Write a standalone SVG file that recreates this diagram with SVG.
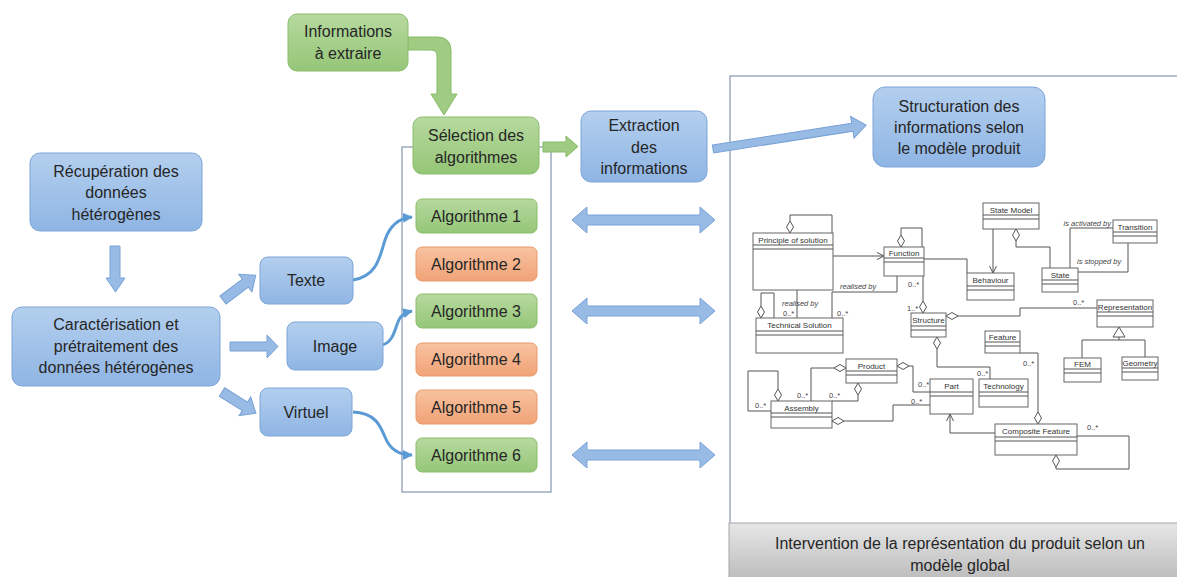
<svg xmlns="http://www.w3.org/2000/svg" xmlns:xlink="http://www.w3.org/1999/xlink" width="1177" height="577" viewBox="0 0 1177 577">
<defs>
<linearGradient id="gBlue" x1="0" y1="0" x2="0" y2="1"><stop offset="0" stop-color="#b3cfee"/><stop offset="1" stop-color="#8fb5e4"/></linearGradient>
<linearGradient id="gGreen" x1="0" y1="0" x2="0" y2="1"><stop offset="0" stop-color="#b6d99f"/><stop offset="1" stop-color="#95c677"/></linearGradient>
<linearGradient id="gOrange" x1="0" y1="0" x2="0" y2="1"><stop offset="0" stop-color="#f8c3a0"/><stop offset="1" stop-color="#f1a277"/></linearGradient>
<linearGradient id="gGrey" x1="0" y1="0" x2="0" y2="1"><stop offset="0" stop-color="#e6e6e6"/><stop offset="1" stop-color="#bdbdbd"/></linearGradient>
<marker id="ah" viewBox="0 0 10 10" refX="9" refY="5" markerWidth="10" markerHeight="10" markerUnits="userSpaceOnUse" orient="auto"><path d="M0,0 L10,5 L0,10 Z" fill="#5b9bd5"/></marker>
<path id="dv" d="M0,0 L3.5,6 L0,12 L-3.5,6 Z"/>
<path id="dh" d="M0,0 L6,-3.5 L12,0 L6,3.5 Z"/>
</defs>
<style>
.t{font-family:"Liberation Sans",Arial,sans-serif;font-size:16px;fill:#262626;text-anchor:middle}
.bb{fill:url(#gBlue);stroke:#7da5d6;stroke-width:1}
.gb{fill:url(#gGreen);stroke:#8bbd6c;stroke-width:1}
.ob{fill:url(#gOrange);stroke:#e89a6c;stroke-width:1}
.ba{fill:#98bbe6;stroke:#79a2d4;stroke-width:1}
.ga{fill:#9fcc82;stroke:#86ba66;stroke-width:1}
.cv{fill:none;stroke:#5b9bd5;stroke-width:3}
.fr{fill:none;stroke:#8497b0;stroke-width:1.2}
.u{fill:#fff;stroke:#666;stroke-width:1}
.ul{fill:none;stroke:#555;stroke-width:1}
.ut{font-family:"Liberation Sans",Arial,sans-serif;font-size:8px;fill:#333;text-anchor:middle}
.um{font-family:"Liberation Sans",Arial,sans-serif;font-size:7.5px;fill:#444}
.ui{font-family:"Liberation Sans",Arial,sans-serif;font-size:7.5px;fill:#444;font-style:italic}
.dm{fill:#fff;stroke:#555;stroke-width:1}
</style>
<rect width="1177" height="577" fill="#fff"/>

<!-- frames -->
<rect class="fr" x="402" y="147" width="149" height="345"/>
<rect class="fr" x="730" y="76" width="460" height="510"/>

<g id="connectors">
<polygon class="ba" points="110,246 120,246 120,278 125,278 115.5,292 106,278 110,278"/>
<polygon class="ba" transform="translate(223,300) rotate(-37)" points="0,-5 28,-5 28,-11 41,0 28,11 28,5 0,5"/>
<polygon class="ba" points="230,342 267,342 267,335 278,346.5 267,358 267,351 230,351"/>
<polygon class="ba" transform="translate(222,392) rotate(32)" points="0,-5 27,-5 27,-11 40,0 27,11 27,5 0,5"/>
<path class="cv" d="M353,280 C378,276 380,255 385,240 C390,225 400,218 412,217" marker-end="url(#ah)"/>
<path class="cv" d="M382,345 C395,342 395,325 400,318 C404,313 408,312 412,311" marker-end="url(#ah)"/>
<path class="cv" d="M353,412 C375,413 380,425 385,437 C390,450 400,455 412,455" marker-end="url(#ah)"/>
<path class="ga" d="M408,37 H437 Q451,37 451,51 V94 H457 L444,115 L431,94 H437 V56 Q437,50 431,50 H408 Z"/>
<polygon class="ga" points="543,142 566,142 566,136 578,146.5 566,157 566,152 543,152"/>
<polygon class="ba" transform="translate(713,149) rotate(-8.9)" points="0,-4 141,-4 141,-11 155,0 141,11 141,4 0,4"/>
<polygon class="ba" points="572,220 587,207 587,215 700,215 700,207 715,220 700,233 700,225 587,225 587,233"/>
<polygon class="ba" points="572,311 587,298 587,306 700,306 700,298 715,311 700,324 700,316 587,316 587,324"/>
<polygon class="ba" points="572,455 587,442 587,450 700,450 700,442 715,455 700,468 700,460 587,460 587,468"/>
</g>

<g id="recuperation"><rect class="bb" x="30" y="153" width="172" height="78" rx="10"/>
<text class="t" x="116" y="177">Récupération des</text><text class="t" x="116" y="198">données</text><text class="t" x="116" y="220">hétérogènes</text></g>
<g id="caracterisation"><rect class="bb" x="12" y="307" width="208" height="79" rx="10"/>
<text class="t" x="116" y="330">Caractérisation et</text><text class="t" x="116" y="352">prétraitement des</text><text class="t" x="116" y="373">données hétérogènes</text></g>
<g id="texte"><rect class="bb" x="260" y="257" width="93" height="47" rx="8"/><text class="t" x="306" y="286">Texte</text></g>
<g id="image"><rect class="bb" x="287" y="322" width="96" height="48" rx="8"/><text class="t" x="335" y="352">Image</text></g>
<g id="virtuel"><rect class="bb" x="260" y="388" width="92" height="48" rx="8"/><text class="t" x="306" y="418">Virtuel</text></g>
<g id="informations"><rect class="gb" x="288" y="14" width="120" height="57" rx="9"/>
<text class="t" x="348" y="37">Informations</text><text class="t" x="348" y="59">à extraire</text></g>
<g id="selection"><rect class="gb" x="413" y="117" width="126" height="57" rx="9"/>
<text class="t" x="476" y="141">Sélection des</text><text class="t" x="476" y="163">algorithmes</text></g>
<g id="extraction"><rect class="bb" x="581" y="111" width="126" height="71" rx="10"/>
<text class="t" x="644" y="131">Extraction</text><text class="t" x="644" y="153">des</text><text class="t" x="644" y="174">informations</text></g>
<g id="structuration"><rect class="bb" x="873" y="87" width="172" height="80" rx="12"/>
<text class="t" x="959" y="112">Structuration des</text><text class="t" x="959" y="133">informations selon</text><text class="t" x="959" y="154">le modèle produit</text></g>
<g id="alg1"><rect class="gb" x="416" y="199" width="121" height="34" rx="6"/><text class="t" x="476" y="222">Algorithme 1</text></g>
<g id="alg2"><rect class="ob" x="416" y="247" width="121" height="34" rx="6"/><text class="t" x="476" y="270">Algorithme 2</text></g>
<g id="alg3"><rect class="gb" x="416" y="294" width="121" height="34" rx="6"/><text class="t" x="476" y="317">Algorithme 3</text></g>
<g id="alg4"><rect class="ob" x="416" y="343" width="121" height="33" rx="6"/><text class="t" x="476" y="365">Algorithme 4</text></g>
<g id="alg5"><rect class="ob" x="416" y="390" width="121" height="34" rx="6"/><text class="t" x="476" y="413">Algorithme 5</text></g>
<g id="alg6"><rect class="gb" x="416" y="438" width="121" height="34" rx="6"/><text class="t" x="476" y="461">Algorithme 6</text></g>

<g id="caption"><rect x="729" y="523" width="450" height="56" fill="url(#gGrey)" stroke="#a6a6a6" stroke-width="1"/>
<text class="t" x="960" y="549">Intervention de la représentation du produit selon un</text><text class="t" x="960" y="571">modèle global</text></g>

<!-- UML product model -->
<g id="uml-connectors">
<path class="ul" d="M790,221 V215 H832 V233"/><use href="#dv" class="dm" x="790" y="221"/>
<path class="ul" d="M833,256 H884 M877,252.5 L884,256 L877,259.5"/>
<path class="ul" d="M901,235 V228 H922 V247"/><use href="#dv" class="dm" x="901" y="235"/>
<path class="ul" d="M924,259 H967 V273"/>
<path class="ul" d="M897,276 V292 H832 V318"/>
<path class="ul" d="M797,290 V318"/>
<path class="ul" d="M761,306 V293 H774 V318"/><use href="#dv" class="dm" x="761" y="306"/>
<path class="ul" d="M923,276 V301"/><use href="#dv" class="dm" x="923" y="301"/>
<path class="ul" d="M958,316 H1020 V308 H1097"/><use href="#dh" class="dm" x="946" y="316"/>
<path class="ul" d="M1119,337 V340 M1082,358 V340 H1145 V357"/>
<path class="dm" d="M1119,327 L1125,337 L1113,337 Z"/>
<path class="ul" d="M993,229 V273 M989.5,266 L993,273 L996.5,266"/>
<path class="ul" d="M1016,241 V247 H1050 V268"/><use href="#dv" class="dm" x="1016" y="229"/>
<path class="ul" d="M1070,268 V228 H1113"/>
<path class="ul" d="M1128,243 V272 H1078"/>
<path class="ul" d="M937,349 V367 H990 V379"/><use href="#dv" class="dm" x="937" y="337"/>
<path class="ul" d="M1020,353 H1038 V412"/><use href="#dv" class="dm" x="1038" y="412"/>
<path class="ul" d="M909,366 H913 V392 H930"/><use href="#dh" class="dm" x="897" y="366"/>
<path class="ul" d="M834,368 H811 V401"/><use href="#dh" class="dm" x="834" y="368"/>
<path class="ul" d="M858,395 V401 H832"/><use href="#dv" class="dm" x="858" y="383"/>
<path class="ul" d="M778,389 V371 H748 V411 H771"/><use href="#dv" class="dm" x="778" y="389"/>
<path class="ul" d="M844,421 H893 V405 H930"/><use href="#dh" class="dm" x="832" y="421"/>
<path class="ul" d="M995,433 H950 V414 M946.5,421 L950,414 L953.5,421"/>
<path class="ul" d="M1056,467 V469 H1129 V436 H1077"/><use href="#dv" class="dm" x="1056" y="455"/>
<text class="ui" x="840" y="289">realised by</text>
<text class="ui" x="782" y="306">realised by</text>
<text class="um" x="783" y="316">0..*</text>
<text class="um" x="837" y="316">0..*</text>
<text class="um" x="908" y="287">0..*</text>
<text class="um" x="907" y="311">1..*</text>
<text class="um" x="1073" y="305">0..*</text>
<text class="ui" x="1111" y="226" text-anchor="end">is activated by</text>
<text class="ui" x="1077" y="264">is stopped by</text>
<text class="um" x="977" y="376">0..*</text>
<text class="um" x="1023" y="366">0..*</text>
<text class="um" x="918" y="387">0..*</text>
<text class="um" x="797" y="398">0..*</text>
<text class="um" x="829" y="398">0..*</text>
<text class="um" x="755" y="408">0..*</text>
<text class="um" x="911" y="404">0..*</text>
<text class="um" x="1087" y="430">0..*</text>
</g>

<g id="c-principle"><rect class="u" x="753" y="233" width="80" height="57"/><path class="ul" d="M753,245 H833 M753,249 H833"/><text class="ut" x="793" y="242.5">Principle of solution</text></g>
<g id="c-function"><rect class="u" x="884" y="247" width="40" height="29"/><path class="ul" d="M884,258 H924 M884,262 H924"/><text class="ut" x="904" y="256">Function</text></g>
<g id="c-techsol"><rect class="u" x="756" y="318" width="87" height="35"/><path class="ul" d="M756,331 H843 M756,335 H843"/><text class="ut" x="799.5" y="328">Technical Solution</text></g>
<g id="c-structure"><rect class="u" x="911" y="313" width="35" height="24"/><path class="ul" d="M911,326 H946 M911,330 H946"/><text class="ut" x="928.5" y="323">Structure</text></g>
<g id="c-behaviour"><rect class="u" x="967" y="273" width="47" height="27"/><path class="ul" d="M967,286 H1014 M967,290 H1014"/><text class="ut" x="990.5" y="283">Behaviour</text></g>
<g id="c-statemodel"><rect class="u" x="983" y="203" width="56" height="26"/><path class="ul" d="M983,215 H1039 M983,219 H1039"/><text class="ut" x="1011" y="212.5">State Model</text></g>
<g id="c-state"><rect class="u" x="1042" y="268" width="36" height="24"/><path class="ul" d="M1042,280 H1078 M1042,284 H1078"/><text class="ut" x="1060" y="277.5">State</text></g>
<g id="c-transition"><rect class="u" x="1113" y="220" width="44" height="23"/><path class="ul" d="M1113,232 H1157 M1113,236 H1157"/><text class="ut" x="1135" y="229.5">Transition</text></g>
<g id="c-representation"><rect class="u" x="1097" y="300" width="56" height="27"/><path class="ul" d="M1097,312 H1153 M1097,316 H1153"/><text class="ut" x="1125" y="309.5">Representation</text></g>
<g id="c-fem"><rect class="u" x="1064" y="358" width="37" height="24"/><path class="ul" d="M1064,369 H1101 M1064,373 H1101"/><text class="ut" x="1082.5" y="367">FEM</text></g>
<g id="c-geometry"><rect class="u" x="1122" y="357" width="36" height="23"/><path class="ul" d="M1122,368 H1158 M1122,372 H1158"/><text class="ut" x="1140" y="366">Geometry</text></g>
<g id="c-feature"><rect class="u" x="985" y="331" width="35" height="22"/><path class="ul" d="M985,342 H1020 M985,346 H1020"/><text class="ut" x="1002.5" y="340">Feature</text></g>
<g id="c-technology"><rect class="u" x="979" y="379" width="49" height="28"/><path class="ul" d="M979,392 H1028 M979,396 H1028"/><text class="ut" x="1003.5" y="389">Technology</text></g>
<g id="c-part"><rect class="u" x="930" y="379" width="43" height="35"/><path class="ul" d="M930,392 H973 M930,396 H973"/><text class="ut" x="951.5" y="389">Part</text></g>
<g id="c-product"><rect class="u" x="846" y="359" width="51" height="24"/><path class="ul" d="M846,371 H897 M846,375 H897"/><text class="ut" x="871.5" y="368.5">Product</text></g>
<g id="c-assembly"><rect class="u" x="771" y="401" width="61" height="27"/><path class="ul" d="M771,413 H832 M771,417 H832"/><text class="ut" x="801.5" y="410.5">Assembly</text></g>
<g id="c-compfeature"><rect class="u" x="995" y="424" width="82" height="31"/><path class="ul" d="M995,437 H1077 M995,441 H1077"/><text class="ut" x="1036" y="434">Composite Feature</text></g>
</svg>
